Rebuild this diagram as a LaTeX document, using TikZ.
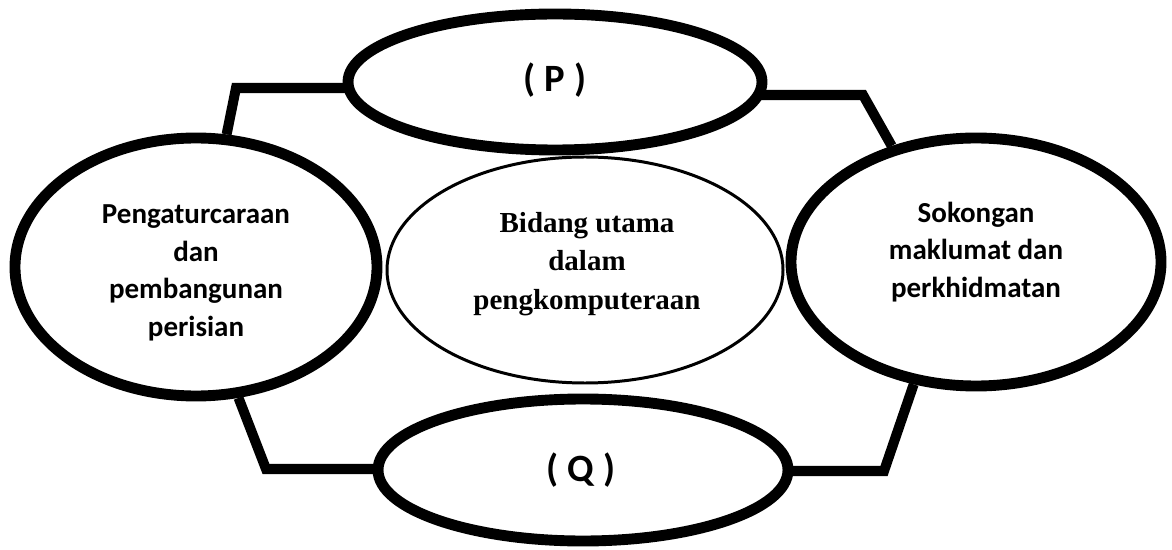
\documentclass[tikz,border=0pt]{standalone}
\usepackage{fontspec}
\setmainfont{Carlito}
\newfontfamily\serifbold{Liberation Serif}
\usetikzlibrary{shapes.geometric,backgrounds}
\begin{document}
\begin{tikzpicture}[x=0.02cm,y=-0.02cm,
  area/.style={ellipse, draw=black, fill=white, line width=6.2pt, inner sep=0pt},
  hub/.style={ellipse, draw=black, fill=white, line width=1.7pt, inner sep=0pt},
  areatext/.style={align=center, inner sep=0pt,
    font=\fontsize{16.5pt}{21.4pt}\selectfont\bfseries},
  lettertext/.style={inner sep=0pt, font=\fontsize{22pt}{24pt}\selectfont\bfseries},
  hubtext/.style={align=center, inner sep=0pt,
    font=\serifbold\fontsize{16.5pt}{21.8pt}\selectfont\bfseries},
  link/.style={line width=5.7pt, line join=miter}]
\useasboundingbox (0,0) rectangle (1172,550);

% central topic
\node[hub, minimum width=396*0.02cm, minimum height=226*0.02cm] (C) at (585,270) {};
\node[hubtext] (Ct) at (587,264) {Bidang utama\\dalam\\pengkomputeraan};

% four surrounding areas
\node[area, minimum width=414*0.02cm, minimum height=136*0.02cm] (P) at (555,82) {};
\node[lettertext] (Pt) at (555,80) {( P )};
\node[area, minimum width=410*0.02cm, minimum height=142*0.02cm] (Q) at (583,470) {};
\node[lettertext] (Qt) at (581,470) {( Q )};
\node[area, minimum width=362*0.02cm, minimum height=258*0.02cm] (L) at (196,267) {};
\node[areatext] (Lt) at (196,273) {Pengaturcaraan\\dan\\pembangunan\\perisian};
\node[area, minimum width=370*0.02cm, minimum height=248*0.02cm] (R) at (976,262) {};
\node[areatext] (Rt) at (976,252) {Sokongan\\maklumat dan\\perkhidmatan};

% corner points of the links
\coordinate (tl) at (236,88);
\coordinate (tr) at (863,95);
\coordinate (bl) at (266,469);
\coordinate (br) at (884,471);

\begin{pgfonlayer}{background}
  \draw[link] (P.center |- tl) -- (tl) -- (L.77);
  \draw[link] (P.center |- tr) -- (tr) -- (R.126);
  \draw[link] (Q.center |- bl) -- (bl) -- (L.288);
  \draw[link] (Q.center |- br) -- (br) -- (R.243);
\end{pgfonlayer}
\end{tikzpicture}
\end{document}
